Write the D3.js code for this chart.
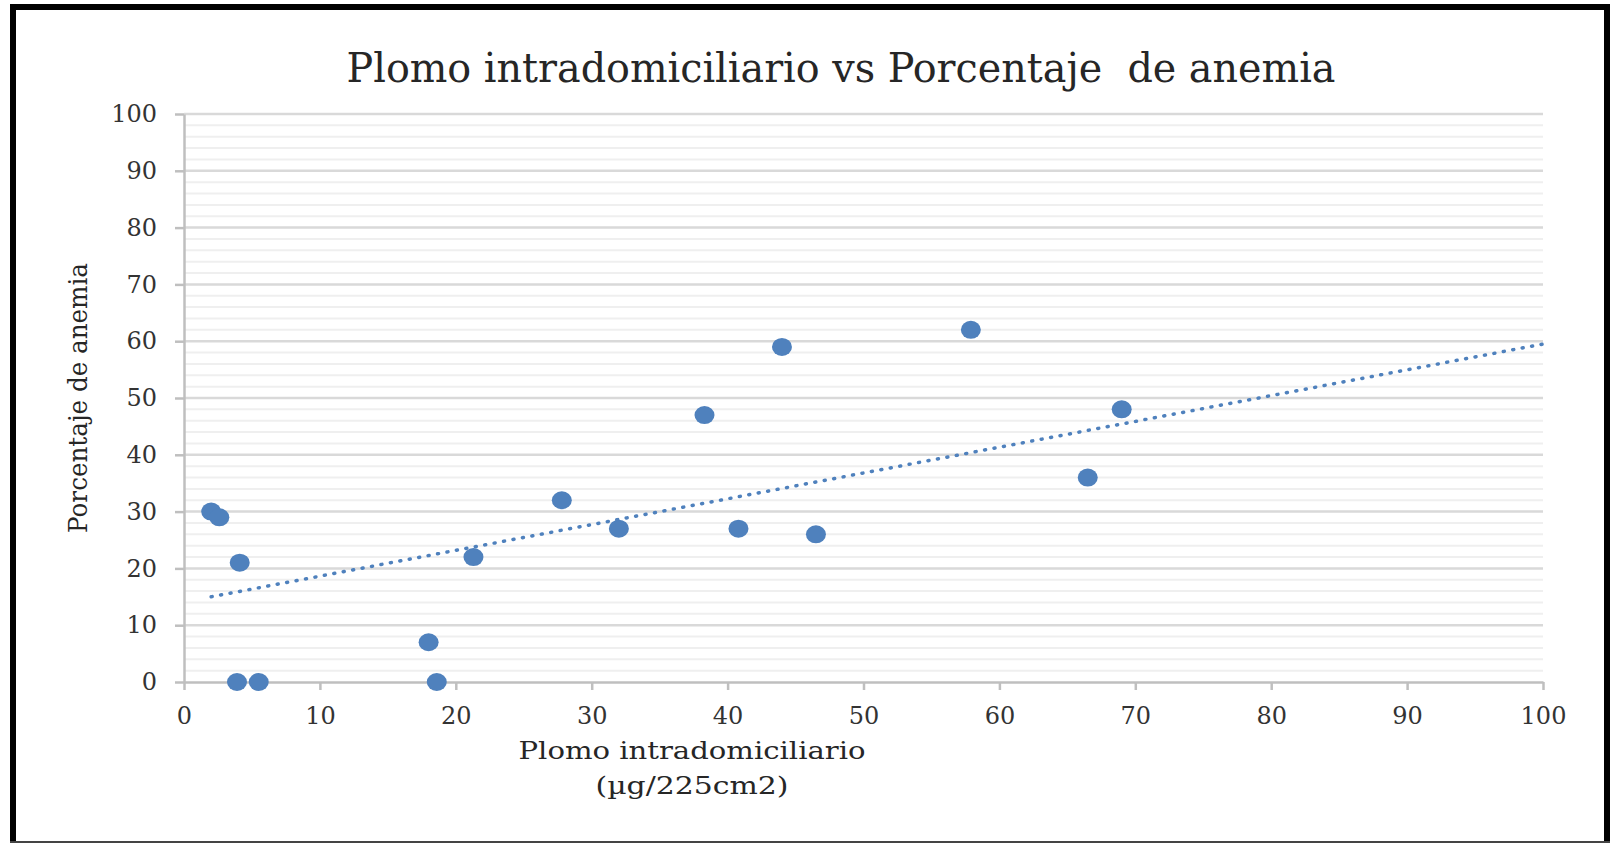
<!DOCTYPE html>
<html lang="es">
<head>
    <meta charset="UTF-8">
    <title>Plomo intradomiciliario vs Porcentaje de anemia</title>
    <script src="https://d3js.org/d3.v7.min.js"></script>
    <style>
        html, body { margin: 0; padding: 0; background: #fff; }
        svg { display: block; }
        text { font-family: "DejaVu Serif", serif; fill: #262626; }
        .tick text { font-size: 24px; fill: #333; }
    </style>
</head>
<body>
    <div id="chart"></div>

    <script>
        // Datos
        const plomo = [2, 2.6, 4.1, 3.9, 5.5, 18, 18.6, 21.3, 27.8, 32, 38.3, 40.8, 44, 46.5, 57.9, 66.5, 69];
        const anemia = [30, 29, 21, 0, 0, 7, 0, 22, 32, 27, 47, 27, 59, 26, 62, 36, 48];

        // Linea de tendencia (extremos leidos)
        const trendX = [2, 100];
        const trendY = [15, 59.5];

        const xTicks = [0, 10, 20, 30, 40, 50, 60, 70, 80, 90, 100];
        const yTicks = [0, 10, 20, 30, 40, 50, 60, 70, 80, 90, 100];

        const width = 1610, height = 843;
        const svg = d3.select("#chart")
            .append("svg")
            .attr("width", width)
            .attr("height", height);

        const x = d3.scaleLinear().domain([0, 100]).range([184, 1543]);
        const y = d3.scaleLinear().domain([0, 100]).range([682, 114]);

        // Marco del grafico
        svg.append("path")
            .attr("d", `M13,${height} V7 H1607 V${height}`)
            .attr("fill", "none")
            .attr("stroke", "#000")
            .attr("stroke-width", 6);
        svg.append("line")
            .attr("x1", 10).attr("x2", 1610)
            .attr("y1", 842).attr("y2", 842)
            .attr("stroke", "#444")
            .attr("stroke-width", 2);

        // Lineas de division secundarias
        svg.append("g")
            .selectAll("line")
            .data(y.ticks(50).filter(d => d % 10 !== 0))
            .join("line")
            .attr("x1", x(0)).attr("x2", x(100))
            .attr("y1", d => y(d)).attr("y2", d => y(d))
            .attr("stroke", "#efefef")
            .attr("stroke-width", 2);

        // Lineas de division principales
        svg.append("g")
            .selectAll("line")
            .data(yTicks.filter(d => d !== 0))
            .join("line")
            .attr("x1", x(0)).attr("x2", x(100))
            .attr("y1", d => y(d)).attr("y2", d => y(d))
            .attr("stroke", "#d9d9d9")
            .attr("stroke-width", 2.5);

        // Ejes
        const yAxis = svg.append("g")
            .attr("transform", `translate(${x(0)},0)`)
            .call(d3.axisLeft(y).tickValues(yTicks).tickSize(9).tickSizeOuter(0).tickPadding(18));
        const xAxis = svg.append("g")
            .attr("transform", `translate(0,${y(0)})`)
            .call(d3.axisBottom(x).tickValues(xTicks).tickSize(8).tickSizeOuter(0).tickPadding(17));

        [yAxis, xAxis].forEach(g => {
            g.select(".domain").attr("stroke", "#bfbfbf").attr("stroke-width", 2.5);
            g.selectAll(".tick line").attr("stroke", "#bfbfbf").attr("stroke-width", 2.5);
            g.selectAll(".tick text").attr("font-family", "DejaVu Serif");
        });

        // Puntos
        const points = plomo.map((v, i) => ({ x: v, y: anemia[i] }));
        svg.append("g")
            .selectAll("ellipse")
            .data(points)
            .join("ellipse")
            .attr("cx", d => x(d.x))
            .attr("cy", d => y(d.y))
            .attr("rx", 10)
            .attr("ry", 9)
            .attr("fill", "#4f81bd");

        // Tendencia lineal punteada
        svg.append("path")
            .datum(trendX.map((v, i) => [v, trendY[i]]))
            .attr("d", d3.line().x(d => x(d[0])).y(d => y(d[1])))
            .attr("fill", "none")
            .attr("stroke", "#4f81bd")
            .attr("stroke-width", 3.5)
            .attr("stroke-linecap", "round")
            .attr("stroke-dasharray", "1 8.6");

        // Titulos
        svg.append("text")
            .attr("x", 841)
            .attr("y", 82)
            .attr("text-anchor", "middle")
            .attr("font-size", 41)
            .attr("textLength", 989)
            .attr("lengthAdjust", "spacingAndGlyphs")
            .style("white-space", "pre")
            .text("Plomo intradomiciliario vs Porcentaje  de anemia");

        svg.append("text")
            .attr("x", 692)
            .attr("y", 759)
            .attr("text-anchor", "middle")
            .attr("font-size", 25)
            .attr("textLength", 347)
            .attr("lengthAdjust", "spacingAndGlyphs")
            .text("Plomo intradomiciliario");
        svg.append("text")
            .attr("x", 692)
            .attr("y", 794)
            .attr("text-anchor", "middle")
            .attr("font-size", 25)
            .attr("textLength", 193)
            .attr("lengthAdjust", "spacingAndGlyphs")
            .text("(µg/225cm2)");

        svg.append("text")
            .attr("transform", "translate(87,398) rotate(-90)")
            .attr("text-anchor", "middle")
            .attr("font-size", 26)
            .attr("textLength", 270)
            .attr("lengthAdjust", "spacingAndGlyphs")
            .text("Porcentaje de anemia");
    </script>
</body>
</html>
